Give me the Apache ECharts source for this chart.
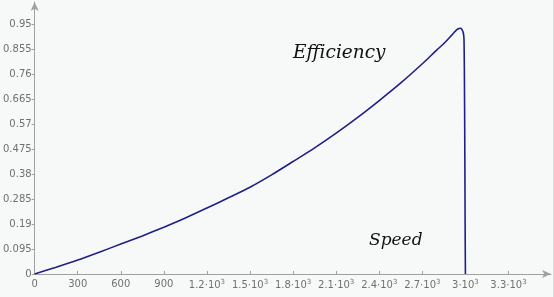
<!DOCTYPE html>
<html><head><meta charset="utf-8">
<script src="https://cdn.jsdelivr.net/npm/echarts@6/dist/echarts.min.js"></script>
<style>html,body{margin:0;padding:0;background:#f7f9f9}#c{width:554px;height:297px}</style>
</head><body><div id="c"></div>
<script>
const speed = [0,150,300,450,600,750,900,1050,1200,1350,1500,1650,1800,1950,2100,2250,2400,2550,2700,2800,2850,2900,2930,2950,2965,2975,2985,2990,2993,2996,2998,3000];
const efficiency = [0,0.026,0.053,0.083,0.114,0.145,0.178,0.213,0.251,0.290,0.330,0.377,0.428,0.480,0.536,0.596,0.660,0.727,0.800,0.852,0.877,0.906,0.924,0.933,0.935,0.931,0.918,0.895,0.75,0.45,0.18,0];
const yTickStep = 0.095;
const xTickStep = 300;
const yLabel = 'Efficiency';
const xLabel = 'Speed';

const chart = echarts.init(document.getElementById('c'));
const labelColor = '#707070';
const axisColor = '#a0a0a0';
chart.setOption({
  backgroundColor: '#f7f9f9',
  animation: false,
  grid: {left: 32, right: 3, top: 2, bottom: 23, containLabel: false},
  xAxis: {
    type: 'value', min: 0, max: 3596, interval: xTickStep,
    axisLine: {show: true, onZero: false, symbol: ['none','arrow'], symbolSize: [6,9], lineStyle: {color: axisColor, width: 1}},
    axisTick: {show: true, inside: true, length: 3, lineStyle: {color: axisColor}},
    splitLine: {show: false},
    axisLabel: {
      showMaxLabel: false, margin: 5, color: labelColor, fontSize: 10, fontFamily: 'DejaVu Sans',
      formatter: v => {
        if (v > 3300) return '';
        if (v < 1000) return String(v);
        return '{a|' + parseFloat((v/1000).toFixed(2)) + '·10}{s|3}';
      },
      rich: {
        a: {color: labelColor, fontSize: 10, fontFamily: 'DejaVu Sans'},
        s: {color: labelColor, fontSize: 7, fontFamily: 'DejaVu Sans', verticalAlign: 'top', padding: [0,0,6,0]}
      }
    }
  },
  yAxis: {
    type: 'value', min: 0, max: 1.035, interval: yTickStep,
    axisLine: {show: true, onZero: false, symbol: ['none','arrow'], symbolSize: [6,9], lineStyle: {color: axisColor, width: 1}},
    axisTick: {show: true, length: 3, lineStyle: {color: axisColor}},
    splitLine: {show: false},
    axisLabel: {
      showMaxLabel: false, margin: 3, color: labelColor, fontSize: 10, fontFamily: 'DejaVu Sans',
      formatter: v => v > 0.96 ? '' : String(parseFloat(v.toFixed(3)))
    }
  },
  series: [{
    type: 'line', data: speed.map((s,i)=>[s, efficiency[i]]),
    showSymbol: false, symbol: 'none', smooth: 0.25,
    lineStyle: {color: '#1f1f85', width: 1.6}
  }],
  graphic: [
    {type: 'text', left: 293, top: 44, style: {text: yLabel, font: 'italic 18.5px "DejaVu Serif", serif', fill: '#111'}},
    {type: 'text', left: 369, top: 232, style: {text: xLabel, font: 'italic 17px "DejaVu Serif", serif', fill: '#111'}},
    {type: 'line', shape: {x1: 553.5, y1: 0, x2: 553.5, y2: 297}, style: {stroke: '#d8dcdc', lineWidth: 1}}
  ]
});
</script></body></html>
